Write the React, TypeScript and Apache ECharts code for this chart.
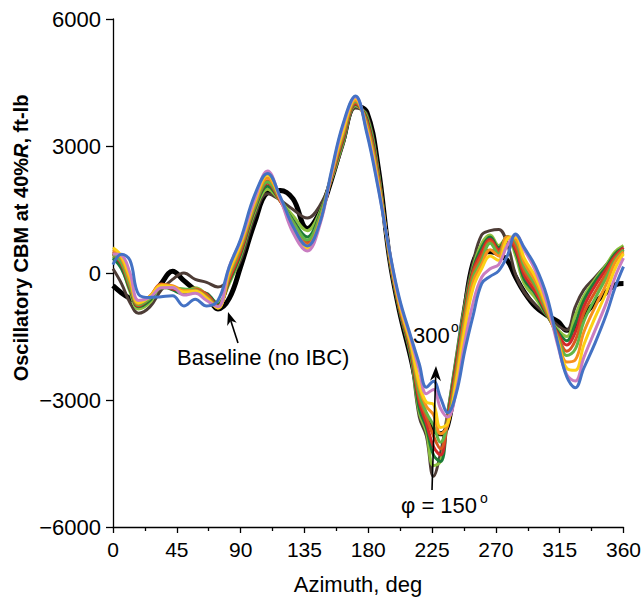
import React, { useEffect, useRef } from "react";
import * as echarts from "echarts";

// Azimuth grid (deg)
const azimuth = [
  0, 6, 12, 18, 26, 34, 42, 50, 58, 66, 74, 82, 90,
  100, 109, 118, 127, 137, 146, 154, 162, 171, 179, 187, 195, 202, 210,
  216, 221, 226, 231, 236, 242, 248, 254, 260, 266, 272, 278, 284, 290,
  298, 306, 314, 320, 326, 332, 340, 348, 354, 360,
];

// Baseline (no IBC)
const baseline = [
  -300, -470, -600, -700, -600, -250, 40, -180, -400, -550, -850, -600, 150,
  1200, 1900, 1950, 1750, 1050, 1450, 2200, 3100, 3950, 3800, 2500, 350, -900, -2000,
  -2900, -3400, -3700, -3800, -3600, -2400, -900, 250, 500, 500, 450, 300, -100, -450,
  -800, -1000, -1150, -1350, -1300, -1000, -700, -450, -280, -250,
];

const phi150 = [
  100, -250, -700, -950, -800, -400, -150, 0, -150, -220, -330, -150, 300,
  1350, 1870, 1720, 1500, 1300, 1600, 2200, 3000, 3900, 3750, 2450, 300, -900, -2000,
  -3400, -3850, -4800, -4250, -3300, -2000, -700, 250, 900, 1000, 1030, 700, -50, -450,
  -750, -1000, -1250, -1350, -800, -400, -100, 200, 450, 550,
];
const phi165 = [
  400, 150, -450, -850, -700, -350, -350, -450, -350, -500, -700, -250, 400,
  1450, 1980, 1700, 1350, 1000, 1450, 2200, 3050, 3950, 3700, 2400, 350, -850, -1950,
  -3300, -3750, -4550, -4450, -3350, -2050, -800, 150, 700, 900, 650, 850, 400, -250,
  -600, -1000, -1350, -1500, -1000, -550, -150, 200, 500, 650,
];
const phi180 = [
  350, 100, -400, -800, -650, -300, -400, -500, -450, -480, -750, -200, 450,
  1500, 2050, 1700, 1250, 850, 1400, 2250, 3100, 3980, 3650, 2350, 380, -850, -1900,
  -3200, -3650, -4300, -4450, -3400, -2100, -850, 100, 600, 850, 600, 850, 500, -150,
  -500, -1000, -1400, -1600, -1200, -650, -200, 150, 450, 600,
];
const phi195 = [
  450, 200, -350, -780, -600, -280, -380, -420, -400, -500, -780, -150, 500,
  1550, 2120, 1700, 1200, 750, 1350, 2250, 3150, 4000, 3600, 2300, 400, -800, -1850,
  -3050, -3550, -4100, -4300, -3450, -2200, -950, 50, 500, 800, 550, 850, 550, -50,
  -450, -950, -1450, -1700, -1400, -800, -300, 100, 400, 600,
];
const phi210 = [
  500, 250, -300, -760, -560, -260, -330, -400, -380, -520, -800, -100, 550,
  1600, 2180, 1700, 1150, 700, 1300, 2300, 3200, 4030, 3550, 2250, 420, -800, -1800,
  -2950, -3400, -3850, -4150, -3500, -2300, -1000, 0, 400, 750, 500, 850, 650, 50,
  -350, -950, -1500, -1850, -1600, -950, -450, 0, 350, 550,
];
const phi225 = [
  450, 250, -300, -750, -600, -350, -350, -380, -400, -560, -800, -50, 600,
  1580, 2150, 1750, 1200, 780, 1350, 2300, 3250, 4050, 3500, 2200, 440, -750, -1750,
  -2850, -3300, -3600, -4000, -3550, -2400, -1100, -100, 300, 700, 450, 850, 750, 150,
  -300, -900, -1550, -1950, -1800, -1150, -600, -100, 300, 550,
];
const phi240 = [
  550, 350, -200, -720, -550, -280, -300, -420, -420, -580, -820, 0, 650,
  1650, 2250, 1750, 1100, 650, 1250, 2300, 3300, 4080, 3450, 2150, 460, -750, -1700,
  -2700, -3150, -3350, -3800, -3600, -2500, -1200, -200, 200, 550, 400, 850, 800, 250,
  -200, -850, -1600, -2100, -2050, -1400, -800, -250, 250, 500,
];
const phi255 = [
  600, 400, -100, -700, -560, -300, -330, -450, -430, -600, -830, 50, 700,
  1700, 2320, 1750, 1050, 580, 1200, 2350, 3350, 4120, 3400, 2100, 480, -700, -1650,
  -2600, -3050, -3100, -3650, -3550, -2600, -1350, -350, 100, 400, 300, 800, 850, 350,
  -100, -800, -1650, -2250, -2300, -1700, -1050, -450, 100, 450,
];
const phi270 = [
  450, 420, 0, -650, -580, -350, -340, -520, -480, -650, -800, 150, 760,
  1750, 2410, 1750, 950, 520, 1150, 2350, 3450, 4160, 3350, 2050, 500, -650, -1550,
  -2300, -2850, -2750, -3200, -3400, -2800, -1650, -700, -100, 100, 200, 650, 900, 550,
  50, -700, -1750, -2400, -2550, -2000, -1350, -700, -100, 350,
];
const phi300 = [
  200, 440, 300, -500, -580, -560, -540, -780, -620, -780, -650, 150, 800,
  1850, 2350, 1800, 1100, 640, 1200, 2400, 3500, 4180, 3300, 2000, 520, -600, -1500,
  -2150, -2700, -2560, -2950, -3300, -2850, -1850, -1000, -250, -80, 50, 400, 920, 600,
  150, -550, -1700, -2450, -2710, -2250, -1650, -970, -350, 150,
];

const ibcSeries = [
  { name: "φ = 150°", values: phi150, color: "#4d3c36" },
  { name: "φ = 165°", values: phi165, color: "#8dc03f" },
  { name: "φ = 180°", values: phi180, color: "#1c7b37" },
  { name: "φ = 195°", values: phi195, color: "#d2282b" },
  { name: "φ = 210°", values: phi210, color: "#d9581f" },
  { name: "φ = 225°", values: phi225, color: "#62b646" },
  { name: "φ = 240°", values: phi240, color: "#f7901e" },
  { name: "φ = 255°", values: phi255, color: "#fcd116" },
  { name: "φ = 270°", values: phi270, color: "#c97dc1" },
  { name: "φ = 300°", values: phi300, color: "#4472c4" },
];

const FONT = "'Liberation Sans', Arial, Helvetica, sans-serif";

function arrow(tail: number[], tip: number[], len: number, half: number) {
  const dx = tip[0] - tail[0];
  const dy = tip[1] - tail[1];
  const d = Math.sqrt(dx * dx + dy * dy);
  const ux = dx / d;
  const uy = dy / d;
  const px = -uy;
  const py = ux;
  const bx = tip[0] - ux * len;
  const by = tip[1] - uy * len;
  const nx = tip[0] - ux * len * 0.7;
  const ny = tip[1] - uy * len * 0.7;
  return [
    {
      type: "line",
      shape: { x1: tail[0], y1: tail[1], x2: nx, y2: ny },
      style: { stroke: "#000", lineWidth: 1.6 },
      z: 100,
    },
    {
      type: "polygon",
      shape: {
        points: [
          [tip[0], tip[1]],
          [bx + px * half, by + py * half],
          [nx, ny],
          [bx - px * half, by - py * half],
        ],
      },
      style: { fill: "#000" },
      z: 100,
    },
  ];
}

export default function App() {
  const ref = useRef<HTMLDivElement>(null);
  useEffect(() => {
    if (!ref.current) return;
    const chart = echarts.init(ref.current, undefined, { renderer: "svg" });
    const lines: any[] = [
      {
        name: "Baseline (no IBC)",
        type: "line",
        data: azimuth.map((a, i) => [a, baseline[i]]),
        showSymbol: false,
        smooth: 0.4,
        lineStyle: { color: "#000", width: 5 },
        z: 2,
      },
      ...ibcSeries.map((s, k) => ({
        name: s.name,
        type: "line",
        data: azimuth.map((a, i) => [a, s.values[i]]),
        showSymbol: false,
        smooth: 0.4,
        lineStyle: { color: s.color, width: 3 },
        z: 3 + k,
      })),
    ];
    chart.setOption({
      animation: false,
      backgroundColor: "#fff",
      grid: { left: 113, right: 20, top: 19, bottom: 73, containLabel: false },
      xAxis: {
        type: "value",
        min: 0,
        max: 360,
        interval: 45,
        axisLine: { show: true, onZero: false, lineStyle: { color: "#000", width: 1.3 } },
        axisTick: { show: true, length: 6, lineStyle: { color: "#000", width: 1.3 } },
        minorTick: { show: true, splitNumber: 2, length: 4, lineStyle: { color: "#000", width: 1.3 } },
        splitLine: { show: false },
        axisLabel: { color: "#000", fontSize: 21, fontFamily: FONT, margin: 12 },
      },
      yAxis: {
        type: "value",
        min: -6000,
        max: 6000,
        interval: 3000,
        axisLine: { show: true, onZero: false, lineStyle: { color: "#000", width: 1.3 } },
        axisTick: { show: true, length: 7, lineStyle: { color: "#000", width: 1.3 } },
        splitLine: { show: false },
        axisLabel: {
          color: "#000",
          fontSize: 22,
          fontFamily: FONT,
          margin: 12,
          formatter: (v: number) => (v < 0 ? "\u2212" + Math.abs(v) : String(v)),
        },
      },
      graphic: [
        {
          type: "text",
          x: 21,
          y: 238,
          rotation: Math.PI / 2,
          style: {
            text: "{b|Oscillatory CBM at 40%}{i|R}{b|, ft-lb}",
            align: "center",
            verticalAlign: "middle",
            rich: {
              b: { fontSize: 20, fontWeight: "bold", fontFamily: FONT, fill: "#000" },
              i: { fontSize: 20, fontWeight: "bold", fontStyle: "italic", fontFamily: FONT, fill: "#000" },
            },
          },
        },
        {
          type: "text",
          x: 358,
          y: 584,
          style: {
            text: "Azimuth, deg",
            align: "center",
            verticalAlign: "middle",
            fontSize: 22,
            fontFamily: FONT,
            fill: "#000",
          },
        },
        {
          type: "text",
          x: 177,
          y: 357,
          style: {
            text: "Baseline (no IBC)",
            align: "left",
            verticalAlign: "middle",
            fontSize: 22,
            fontFamily: FONT,
            fill: "#000",
          },
          z: 100,
        },
        ...arrow([238, 343], [228, 312], 13, 5),
        {
          type: "text",
          x: 413,
          y: 335,
          style: { text: "300", align: "left", verticalAlign: "middle", fontSize: 22, fontFamily: FONT, fill: "#000" },
          z: 100,
        },
        {
          type: "text",
          x: 455,
          y: 327,
          style: { text: "o", align: "center", verticalAlign: "middle", fontSize: 14, fontFamily: FONT, fill: "#000" },
          z: 100,
        },
        ...arrow([432, 490], [436, 366], 15, 5.5),
        {
          type: "text",
          x: 401,
          y: 505,
          style: { text: "φ = 150", align: "left", verticalAlign: "middle", fontSize: 22, fontFamily: FONT, fill: "#000" },
          z: 100,
        },
        {
          type: "text",
          x: 484,
          y: 498,
          style: { text: "o", align: "center", verticalAlign: "middle", fontSize: 14, fontFamily: FONT, fill: "#000" },
          z: 100,
        },
      ],
      series: lines,
    });
    return () => chart.dispose();
  }, []);
  return (
    <div
      ref={ref}
      style={{ position: "absolute", left: 0, top: 0, width: 644, height: 600 }}
    />
  );
}
